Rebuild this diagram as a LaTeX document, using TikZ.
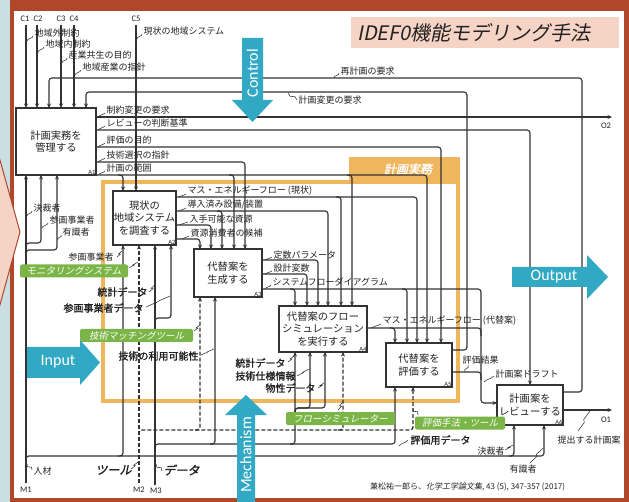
\documentclass[tikz,border=0pt]{standalone}
\usepackage{fontspec}
\setmainfont{Carlito}
\newfontfamily\jp{Noto Sans CJK JP}
\newfontfamily\jpb[FakeBold=1.4]{Noto Sans CJK JP}
\newfontfamily\jpit[FakeSlant=0.2]{Noto Sans CJK JP}
\newfontfamily\jpitb[FakeSlant=0.2,FakeBold=1.6]{Noto Sans CJK JP}
\newfontfamily\carl{Carlito}
\usetikzlibrary{arrows.meta,calc}
\definecolor{bgb}{HTML}{C9DFE2}
\definecolor{rust}{HTML}{B0472A}
\definecolor{pnk}{HTML}{F5D3C5}
\definecolor{orng}{HTML}{F0B65E}
\definecolor{blu}{HTML}{31A8C4}
\definecolor{grn}{HTML}{7BB548}
\definecolor{lnc}{HTML}{333333}
\definecolor{txc}{HTML}{222222}
\tikzset{
  ln/.style={draw=lnc, line width=1.15pt, rounded corners=3pt},
  arr/.style={ln, -{Stealth[length=4.5pt,width=4pt]}},
  dsh/.style={arr, dash pattern=on 4pt off 2pt, line width=1.3pt},
  fbox/.style={draw=lnc, line width=1.2pt, fill=white, align=center, inner sep=0pt, text=txc, font=\jp\fontsize{10.3}{12.8}\selectfont},
  aid/.style={font=\carl\fontsize{6.5}{7}\selectfont, inner sep=1pt, anchor=south east, text=txc},
  lab/.style={font=\jp\fontsize{9}{10}\selectfont, inner sep=0.3pt, anchor=west, text=txc},
  blab/.style={font=\jpb\fontsize{10}{10}\selectfont, inner sep=0.3pt, anchor=west, text=txc},
  tlab/.style={font=\jpitb\fontsize{12}{12}\selectfont, inner sep=0.3pt, anchor=west, text=txc},
  cl/.style={font=\carl\fontsize{8.5}{9}\selectfont, inner sep=0pt, text=txc},
  glab/.style={fill=grn, rounded corners=2pt, text=white, font=\jpit\fontsize{9.5}{10}\selectfont, inner sep=1pt, minimum height=13pt},
  sqs/.style={draw=lnc, line width=0.55pt},
  bigw/.style={text=white, font=\carl\fontsize{16}{16}\selectfont, inner sep=0pt},
}
\newcommand\sqz[2]{\draw[sqs] (#1) -- ($(#1)!0.4!(#2)+(1.5,-0.5)$) -- ($(#1)!0.6!(#2)+(-1.5,0.5)$) -- (#2);}
\begin{document}
\begin{tikzpicture}[x=1pt,y=-1pt]
\useasboundingbox (0,0) rectangle (629,502);
\clip (0,0) rectangle (629,502);
% background and frame
\fill[bgb] (0,0) rectangle (629,502);
\fill[rust, rounded corners=8pt] (10,-3) rectangle (640,512);
\fill[white] (14,11) rectangle (624,498);
\fill[rust] (10,0) rectangle (14,502);
\filldraw[fill=pnk, draw=rust, line width=1pt] (-2,153) -- (20,232) -- (-2,312) -- cycle;
% title
\fill[pnk] (351,17) rectangle (619,48);
\node[font=\jpit\fontsize{20}{20}\selectfont, anchor=west, inner sep=0pt, text=txc] (title) at (357,33) {IDEF0機能モデリング手法};
% orange frame
\draw[orng, line width=4pt] (103,182) rectangle (458,401);
\fill[orng] (349,157) rectangle (460,182);
\node[font=\jpitb\fontsize{12}{12}\selectfont, text=white] (tab) at (408,169) {計画実務};

% ---- connectors ----
\node[cl] (C1) at (25,19) {C1};
\node[cl] (C2) at (38,19) {C2};
\node[cl] (C3) at (61,19) {C3};
\node[cl] (C4) at (74,19) {C4};
\node[cl] (C5) at (136,19) {C5};
\draw[arr] (26,25) -- (26,108);
\draw[arr] (37,25) -- (37,108);
\draw[arr] (61,25) -- (61,108);
\draw[arr] (74,25) -- (74,108);
\draw[arr] (136,25) -- (136,191);
% feedback
\draw[arr] (563,392) -- (582,392) -- (582,78) -- (49,78) -- (49,108);
\draw[arr] (452,350) -- (467,350) -- (467,92) -- (86,92) -- (86,108);
% A1 outputs
\draw[arr] (96,117) -- (612,117);
\node[cl] (O2) at (606,126) {O2};
\draw[arr] (96,130) -- (530,130) -- (530,385);
\draw[arr] (96,147) -- (441,147) -- (441,343);
\draw[arr] (96,162) -- (245,162) -- (245,249);
\draw[arr] (96,175) -- (427,175) -- (427,343);
\draw[arr] (118,175) -- (123,175) -- (123,191);
\draw[arr] (229,175) -- (234,175) -- (234,249);
\draw[arr] (347,175) -- (352,175) -- (352,306);
% A2 outputs
\draw[arr] (176,197) -- (417,197) -- (417,343);
\draw[arr] (336,197) -- (341,197) -- (341,306);
\draw[arr] (176,211) -- (328,211) -- (328,306);
\draw[arr] (217,211) -- (222,211) -- (222,249);
\draw[arr] (176,225) -- (211,225) -- (211,249);
\draw[arr] (176,239) -- (200,239) -- (200,249);
% A3 outputs
\draw[arr] (262,260) -- (318,260) -- (318,306);
\draw[arr] (262,274) -- (307,274) -- (307,306);
\draw[arr] (262,289) -- (481,289) -- (481,403) -- (497,403);
\draw[arr] (290,289) -- (295,289) -- (295,306);
\draw[arr] (402,289) -- (407,289) -- (407,343);
% A4 output
\draw[ln] (367,328) -- (481,328) -- (481,336);
\draw[arr] (390,328) -- (395,328) -- (395,343);
% A5 output
\draw[ln] (452,372) -- (481,372) -- (481,380);
% A6 output
\draw[arr] (563,410) -- (612,410);
\node[cl] (O1) at (606,420) {O1};
% mechanisms M1
\draw[arr] (26,483) -- (26,175);
\draw[arr] (26,248) -- (26,243) -- (41,243) -- (41,175);
\draw[arr] (26,255) -- (26,250) -- (57,250) -- (57,175);
\draw[arr] (26,461) -- (26,456) -- (544,456) -- (544,425);
\draw[arr] (509,456) -- (514,456) -- (514,425);
\draw[arr] (118,456) -- (123,456) -- (123,245);
% M2 (dashed)
\draw[dsh] (139,483) -- (139,245);
\draw[dsh] (139,435) -- (139,430) -- (413,430) -- (413,387);
\draw[dsh] (195,430) -- (200,430) -- (200,297);
\draw[dsh] (338,430) -- (343,430) -- (343,352);
% M3
\draw[arr] (155,485) -- (155,245);
\draw[arr] (155,323) -- (155,318) -- (171,318) -- (171,245);
\draw[arr] (155,449) -- (155,444) -- (395,444) -- (395,387);
\draw[arr] (210,444) -- (215,444) -- (215,297);
\draw[arr] (290,444) -- (295,444) -- (295,352);
\draw[arr] (295,413) -- (295,408) -- (310,408) -- (310,352);
\draw[arr] (295,413) -- (295,408) -- (325,408) -- (325,352);
\node[cl] (M1) at (26,490) {M1};
\node[cl] (M2) at (139,490) {M2};
\node[cl] (M3) at (156,491) {M3};

% ---- activity boxes ----
\node[fbox, minimum width=80pt, minimum height=67pt] (A1) at (56,141.5) {計画実務を\\管理する};
\node[fbox, minimum width=63pt, minimum height=54pt] (A2) at (144.5,218) {現状の\\地域システム\\を調査する};
\node[fbox, minimum width=68pt, minimum height=48pt] (A3) at (228,273) {代替案を\\生成する};
\node[fbox, minimum width=88pt, minimum height=46pt] (A4) at (323,329) {代替案のフロー\\シミュレーション\\を実行する};
\node[fbox, minimum width=66pt, minimum height=44pt] (A5) at (419,365) {代替案を\\評価する};
\node[fbox, minimum width=66pt, minimum height=40pt] (A6) at (530,405) {計画案を\\レビューする};
\node[aid] (a1) at (A1.south east) {A1};
\node[aid] (a2) at (A2.south east) {A2};
\node[aid] (a3) at (A3.south east) {A3};
\node[aid] (a4) at (A4.south east) {A4};
\node[aid] (a5) at (A5.south east) {A5};
\node[aid] (a6) at (A6.south east) {A6};

% ---- labels ----
\node[lab] (t1) at (34,33) {地域外制約}; \sqz{33,36}{27,41}
\node[lab] (t2) at (45,44) {地域内制約}; \sqz{44,47}{38,52}
\node[lab] (t3) at (68,55) {産業共生の目的}; \sqz{67,58}{62,63}
\node[lab] (t4) at (82,67) {地域産業の指針}; \sqz{81,70}{75,75}
\node[lab] (t5) at (143,31) {現状の地域システム}; \sqz{142,34}{137,39}
\node[lab] (t6) at (340,71) {再計画の要求}; \sqz{339,73}{334,78}
\node[lab] (t7) at (298,100) {計画変更の要求}; \sqz{297,100}{288,93}
\node[lab] (t8) at (106,110) {制約変更の要求}; \sqz{105,113}{98,117}
\node[lab] (t9) at (106,123) {レビューの判断基準}; \sqz{105,126}{98,130}
\node[lab] (t10) at (106,140) {評価の目的}; \sqz{105,143}{98,147}
\node[lab] (t11) at (106,155) {技術選択の指針}; \sqz{105,158}{98,162}
\node[lab] (t12) at (106,168) {計画の範囲}; \sqz{105,171}{98,175}
\node[lab] (t13) at (187,191) {マス・エネルギーフロー (現状)}; \sqz{186,194}{179,197}
\node[lab] (t14) at (187,205) {導入済み設備/装置}; \sqz{186,208}{179,211}
\node[lab] (t15) at (189,219) {入手可能な資源}; \sqz{188,222}{179,225}
\node[lab] (t16) at (190,233) {資源消費者の候補}; \sqz{189,236}{182,239}
\node[lab] (t17) at (273,255) {定数パラメータ}; \sqz{272,257}{265,260}
\node[lab] (t18) at (273,268) {設計変数}; \sqz{272,271}{265,274}
\node[lab] (t19) at (272,282) {システムフローダイアグラム}; \sqz{271,285}{265,289}
\node[lab] (t20) at (382,321) {マス・エネルギーフロー (代替案)}; \sqz{381,324}{371,328}
\node[lab] (t21) at (462,360) {評価結果}; \sqz{468,365}{465,372}
\node[lab] (t22) at (495,374) {計画案ドラフト}; \sqz{494,376}{484,382}
\node[lab] (t23) at (557,440) {提出する計画案}; \sqz{578,431}{590,411}
\node[lab] (t24) at (477,451) {決裁者}; \sqz{505,450}{513,445}
\node[lab] (t25) at (509,469) {有識者}; \sqz{530,463}{543,448}
\node[lab] (t26) at (33,208) {決裁者}; \sqz{32,211}{27,216}
\node[lab] (t27) at (49,220) {参画事業者}; \sqz{48,223}{42,228}
\node[lab] (t28) at (62,232) {有識者}; \sqz{61,235}{58,240}
\node[lab] (t29) at (68,257) {参画事業者}; \sqz{117,257}{122,251}
\node[blab] (t30) at (97,292) {統計データ}; \sqz{149,292}{155,285}
\node[blab] (t31) at (63,308) {参画事業者データ}; \sqz{146,307}{170,296}
\node[blab] (t32) at (118,356) {技術の利用可能性}; \sqz{201,355}{214,349}
\node[blab] (t33) at (235,363) {統計データ}; \sqz{288,362}{294,356}
\node[blab] (t34) at (235,376) {技術仕様情報}; \sqz{297,376}{309,369}
\node[blab] (t35) at (265,388) {物性データ}; \sqz{318,388}{324,383}
\node[blab] (t36) at (410,440) {評価用データ}; \sqz{408,440}{399,446}
\node[lab] (t37) at (33,471) {人材}; \sqz{32,470}{27,464}
\node[tlab] (t38) at (95,470) {ツール}; \sqz{131,469}{138,462}
\node[tlab] (t39) at (163,470) {データ}; \sqz{162,471}{156,464}

% ---- green labels ----
\node[glab, minimum width=108pt] (g1) at (74,271) {モニタリングシステム}; \sqz{129,268}{138,262}
\node[glab, minimum width=113pt] (g2) at (136.5,335.5) {技術マッチングツール}; \sqz{194,331}{200,325}
\node[glab, minimum width=109pt] (g3) at (340.5,418.5) {フローシミュレーター}; \sqz{338,410}{343,402}
\node[glab, minimum width=90pt] (g4) at (460,423) {評価手法・ツール}; \sqz{418,415}{413,408}

% ---- big blue arrows ----
\fill[blu] (242,38) -- (263,38) -- (263,100) -- (273,100) -- (252.5,122) -- (232,100) -- (242,100) -- cycle;
\node[bigw, rotate=90] (ctl) at (252.5,73) {Control};
\fill[blu] (512,267) -- (587,267) -- (587,255) -- (608,277) -- (587,299) -- (587,287) -- (512,287) -- cycle;
\node[bigw] (out) at (554,277) {Output};
\fill[blu] (27,347) -- (80,347) -- (80,340) -- (100,362.5) -- (80,385) -- (80,378) -- (27,378) -- cycle;
\node[bigw] (inp) at (58,362) {Input};
\fill[blu] (237,510) -- (237,415) -- (225,415) -- (246,395) -- (267,415) -- (255,415) -- (255,510) -- cycle;
\node[bigw, rotate=90] (mech) at (246,455) {Mechanism};

% citation
\node[font=\jp\fontsize{8}{9}\selectfont, anchor=west, inner sep=0pt, text=txc] (cite) at (370,487) {兼松祐一郎ら、{\jpit 化学工学論文集}, 43 (5), 347-357 (2017)};
\end{tikzpicture}
\end{document}
